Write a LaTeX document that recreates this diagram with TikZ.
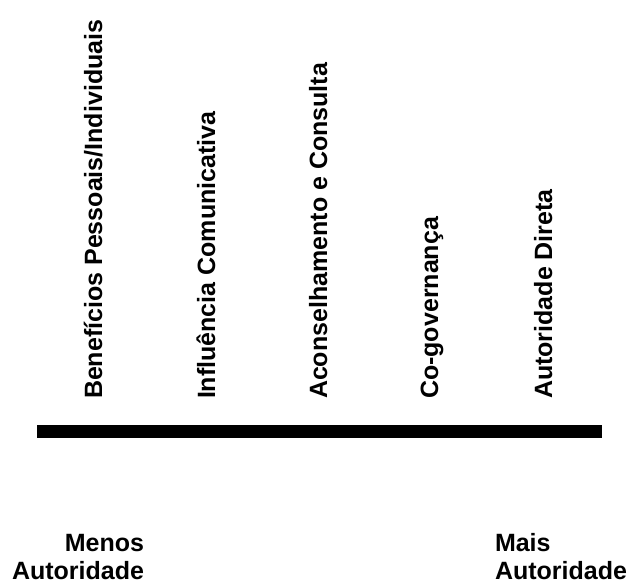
\documentclass[tikz,border=0pt]{standalone}
\usepackage{fontspec}
\setmainfont{Liberation Sans}
\begin{document}
\begin{tikzpicture}[x=1pt,y=1pt,
  lbl/.style={font=\bfseries\fontsize{25}{28}\selectfont, inner sep=0pt, outer sep=0pt},
  level/.style={lbl, rotate=90, anchor=base west},
  endlbl/.style={lbl}
]
\useasboundingbox (0,0) rectangle (629,586);

% levels of authority, read bottom to top
\node[level] (l1) at (102,187) {Benefícios Pessoais/Individuais};
\node[level] (l2) at (215,187) {Influência Comunicativa};
\node[level] (l3) at (327,187) {Aconselhamento e Consulta};
\node[level] (l4) at (438,187) {Co-governança};
\node[level] (l5) at (552,187) {Autoridade Direta};

% the scale
\fill (37,148) rectangle (602,161);

% ends of the scale
\node[endlbl, anchor=base east] (lo1) at (144,34) {Menos};
\node[endlbl, anchor=base east] (lo2) at (144,6) {Autoridade};
\node[endlbl, anchor=base west] (hi1) at (495,34) {Mais};
\node[endlbl, anchor=base west] (hi2) at (495,6) {Autoridade};
\end{tikzpicture}
\end{document}
